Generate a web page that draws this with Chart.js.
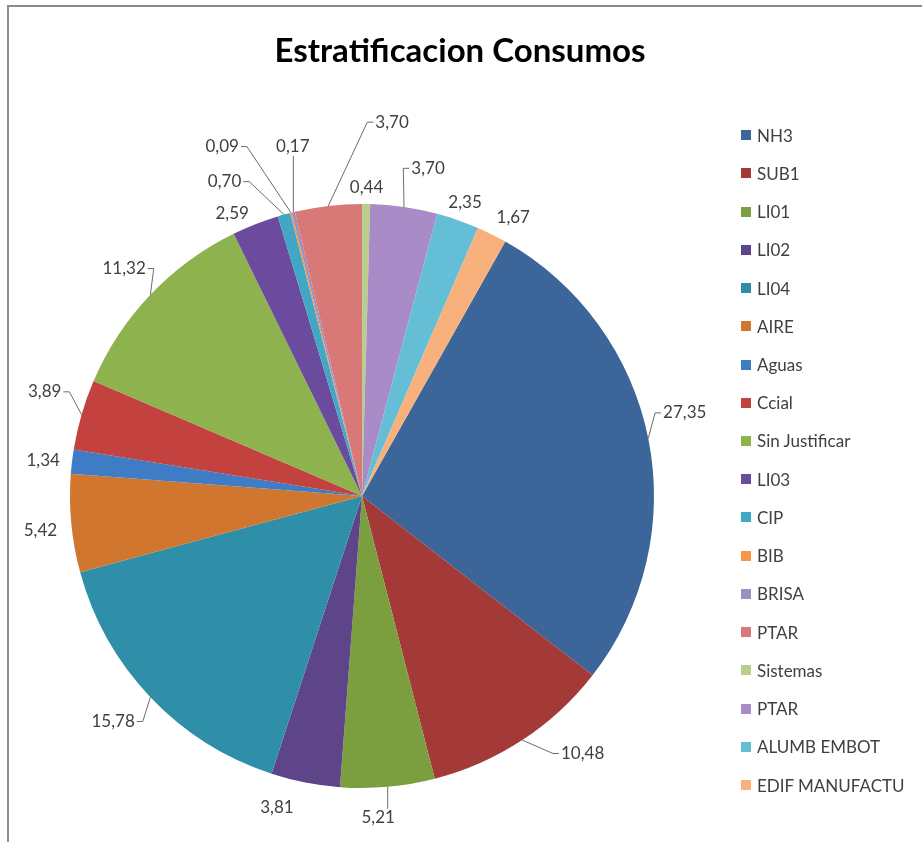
<!DOCTYPE html>
<html lang="es">
<head>
<meta charset="utf-8">
<title>Estratificacion Consumos</title>
<script src="https://cdn.jsdelivr.net/npm/chart.js@4.4.1/dist/chart.umd.min.js"></script>
<style>
  html, body { margin: 0; padding: 0; background: #fff; overflow: hidden; }
  #wrap { position: relative; width: 922px; height: 842px; overflow: hidden; }
  #frame { position: absolute; left: 7px; top: 5px; width: 1000px; height: 1000px;
           border-left: 2px solid #8c8c8c; border-top: 2px solid #8c8c8c; }
  #chart { position: absolute; left: 0; top: 0; }
  #title { position: absolute; left: 0; width: 922px; top: 29px; margin: 0; padding-left: 0;
           text-align: center; font: bold 33px/40px Lato, sans-serif; color: #000; transform: translateX(-1px); }
  #title span { position: relative; left: 0; }
  #legend { position: absolute; left: 741px; top: 116px; margin: 0; padding: 0; list-style: none;
            font: 17px Lato, sans-serif; color: #404040; }
  #legend li { height: 38.24px; display: flex; align-items: center; white-space: nowrap; }
  #legend li span { display: inline-block; width: 10px; height: 10px; margin-right: 6px; }
</style>
</head>
<body>
<div id="wrap">
  <div id="frame"></div>
  <canvas id="chart" width="922" height="842"></canvas>
  <div id="title">Estratificacion Consumos</div>
  <ul id="legend"></ul>
</div>
<script>
// categorias y valores (%) tal como salen en la leyenda
var categories = ['NH3', 'SUB1', 'LI01', 'LI02', 'LI04', 'AIRE', 'Aguas', 'Ccial', 'Sin Justificar',
                  'LI03', 'CIP', 'BIB', 'BRISA', 'PTAR', 'Sistemas', 'PTAR', 'ALUMB EMBOT', 'EDIF MANUFACTU'];
var values = [27.35, 10.48, 5.21, 3.81, 15.78, 5.42, 1.34, 3.89, 11.32,
              2.59, 0.70, 0.09, 0.17, 3.70, 0.44, 3.70, 2.35, 1.67];
var colors = ['#3c6599', '#a33a37', '#7b9f3f', '#5e4589', '#2f8fa8', '#d1762f', '#3e7cc6', '#c3423f', '#8eb24d',
              '#6b4b9e', '#40a8c4', '#f79646', '#9b8fc3', '#d87877', '#b8ce8a', '#a88bc7', '#64bfd6', '#f8b07c'];

// desplazamiento de cada etiqueta respecto a su posicion radial, y si lleva linea guia
var labelNudge = [[9, -20], [45, -10], [-12, 3], [-23, -2], [-17, 5], [-3, 4], [-1, 2], [-10, -15], [-6, -7],
                  [-13, 15], [-52, -6], [-62, -39], [6, -38], [67, -56], [0, 11], [20, -11], [-2, 9], [9, 8]];
var leader = [true, true, true, false, true, false, false, true, true,
              false, true, true, true, true, false, true, false, false];

// etiquetas de valor fuera de la torta, con linea guia hasta el borde del sector
var sliceLabels = {
  id: 'sliceLabels',
  afterDatasetsDraw: function (chart) {
    var ctx = chart.ctx;
    var meta = chart.getDatasetMeta(0);
    ctx.save();
    ctx.font = '17px Lato';
    ctx.fillStyle = '#404040';
    ctx.strokeStyle = '#6b6b6b';
    ctx.lineWidth = 1;
    ctx.textAlign = 'center';
    ctx.textBaseline = 'middle';
    meta.data.forEach(function (arc, i) {
      var p = arc.getProps(['x', 'y', 'startAngle', 'endAngle', 'outerRadius'], true);
      var mid = (p.startAngle + p.endAngle) / 2;
      var c = Math.cos(mid), s = Math.sin(mid);
      var ex = p.x + p.outerRadius * c, ey = p.y + p.outerRadius * s;
      var lx = p.x + (p.outerRadius + 28) * c + labelNudge[i][0];
      var ly = p.y + (p.outerRadius + 28) * s + labelNudge[i][1];
      var text = values[i].toFixed(2).replace('.', ',');
      var w = ctx.measureText(text).width;
      if (leader[i]) {
        var left = lx - w / 2 - 2, right = lx + w / 2 + 2, top = ly - 9, bottom = ly + 9;
        ctx.beginPath();
        if (ex < left || ex > right) {
          var ax = ex < left ? left : right;
          var bx = ex < left ? ax - 6 : ax + 6;
          ctx.moveTo(ax, ly);
          ctx.lineTo(bx, ly);
        } else {
          ctx.moveTo(ex, ey < top ? top : bottom);
        }
        ctx.lineTo(ex, ey);
        ctx.stroke();
      }
      ctx.fillText(text, lx, ly);
    });
    ctx.restore();
  }
};

function draw() {
  new Chart(document.getElementById('chart').getContext('2d'), {
    type: 'pie',
    data: {
      labels: categories,
      datasets: [{
        data: values,
        backgroundColor: colors,
        borderWidth: 0
      }]
    },
    options: {
      responsive: false,
      animation: false,
      rotation: 29.4,
      layout: { padding: { left: 0, right: 198, top: 204, bottom: 54 } },
      plugins: {
        legend: { display: false },
        tooltip: { enabled: false },
        title: { display: false }
      }
    },
    plugins: [sliceLabels]
  });

  // leyenda a la derecha, un renglon por categoria
  var ul = document.getElementById('legend');
  categories.forEach(function (name, i) {
    var li = document.createElement('li');
    var sw = document.createElement('span');
    sw.style.background = colors[i];
    li.appendChild(sw);
    li.appendChild(document.createTextNode(name));
    ul.appendChild(li);
  });
}

if (document.fonts && document.fonts.load) {
  Promise.all([document.fonts.load('bold 33px Lato'), document.fonts.load('17px Lato')])
    .then(draw, draw);
} else {
  draw();
}
</script>
</body>
</html>
